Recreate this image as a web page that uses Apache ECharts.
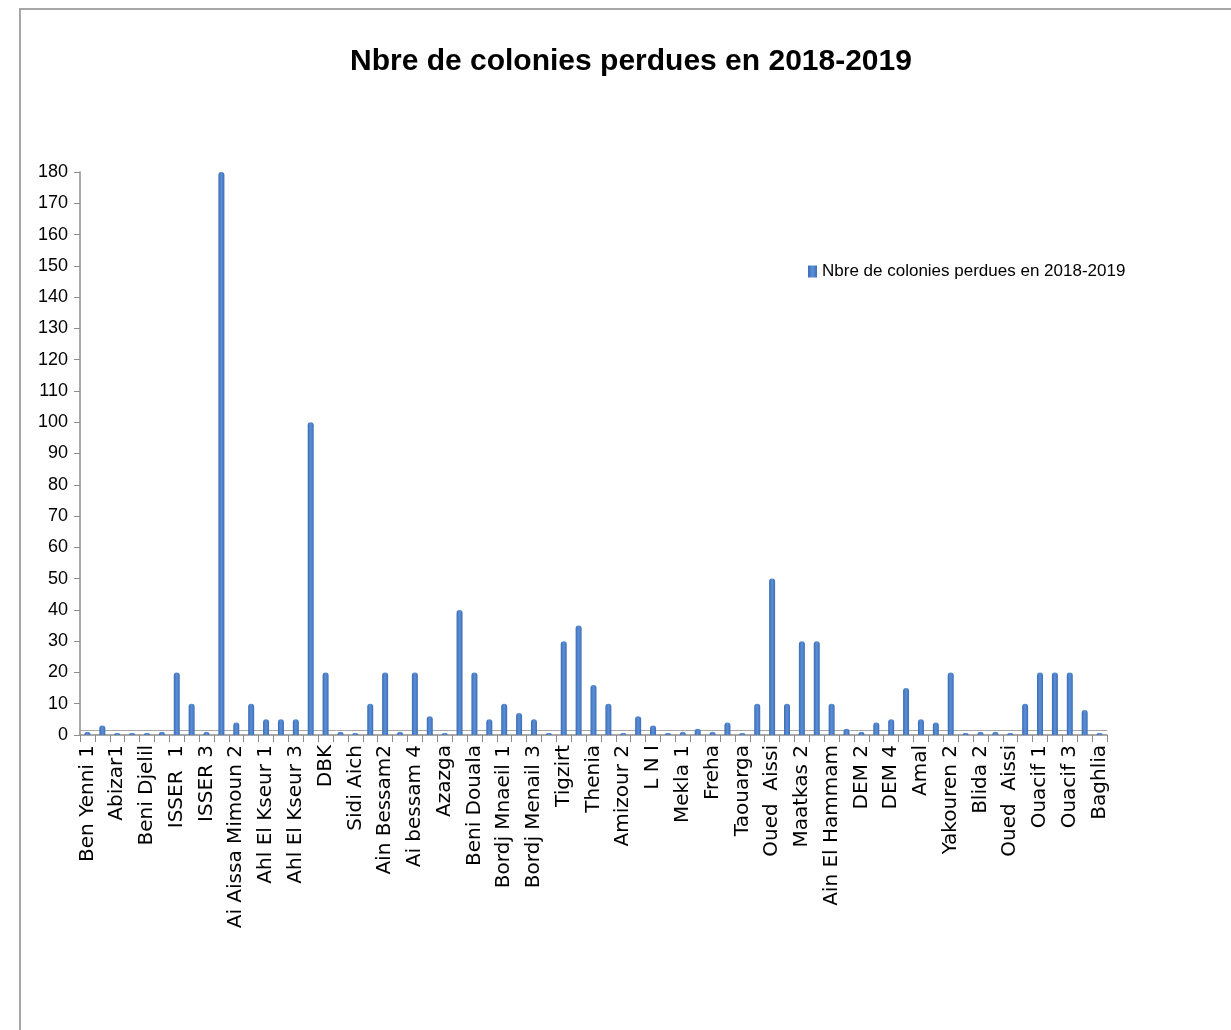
<!DOCTYPE html>
<html>
<head>
<meta charset="utf-8">
<script src="https://cdn.jsdelivr.net/npm/echarts@6/dist/echarts.min.js"></script>
<style>
  html, body { margin: 0; padding: 0; background: #ffffff; }
  #wrap { position: relative; width: 1231px; height: 1030px; overflow: hidden; }
  #chart { position: absolute; left: 0; top: 0; width: 1231px; height: 1030px; }
  #frame { position: absolute; left: 19px; top: 8px; width: 1240px; height: 1040px;
           border-left: 2px solid #a6a6a6; border-top: 2px solid #a6a6a6; pointer-events: none; }
</style>
</head>
<body>
<div id="wrap">
  <div id="chart"></div>
  <div id="frame"></div>
</div>
<script>
// Apiaries (ruchers) surveyed, in survey order
const ruchers = [
  'Ben Yenni 1', 'Ben Yenni 2', 'Abizar1', 'Abizar2', 'Beni Djelil', 'Beni Djelil 2',
  'ISSER  1', 'ISSER 2', 'ISSER 3', 'Ai Aissa Mimoun 1', 'Ai Aissa Mimoun 2', 'Ai Aissa Mimoun 3',
  'Ahl El Kseur 1', 'Ahl El Kseur 2', 'Ahl El Kseur 3', 'Ahl El Kseur 4', 'DBK', 'DBK 2',
  'Sidi Aich', 'Ain Bessam1', 'Ain Bessam2', 'Ai bessam 3', 'Ai bessam 4', 'Ai bessam 5',
  'Azazga', 'Azazga 2', 'Beni Douala', 'Beni Douala 2', 'Bordj Mnaeil 1', 'Bordj Mnaeil 2',
  'Bordj Menail 3', 'Bordj Menail 4', 'Tigzirt', 'Tigzirt 2', 'Thenia', 'Amizour 1',
  'Amizour 2', 'Amizour 3', 'L N I', 'L N I 2', 'Mekla 1', 'Mekla 2',
  'Freha', 'Freha 2', 'Taouarga', 'Taouarga 2', 'Oued  Aissi', 'Oued Aissi 2',
  'Maatkas 2', 'Maatkas 3', 'Ain El Hammam', 'DEM 1', 'DEM 2', 'DEM 3',
  'DEM 4', 'DEM 5', 'Amal', 'Yakouren 1', 'Yakouren 2', 'Blida 1',
  'Blida 2', 'Blida 3', 'Oued  Aissi', 'Oued Aissi 3', 'Ouacif 1', 'Ouacif 2',
  'Ouacif 3', 'Ouacif 4', 'Baghlia'
];

// Colonies lost per apiary, 2018-2019
const coloniesPerdues = [
  1, 3, 0, 0, 0, 1,
  20, 10, 1, 180, 4, 10,
  5, 5, 5, 100, 20, 1,
  0, 10, 20, 1, 20, 6,
  0, 40, 20, 5, 10, 7,
  5, 0, 30, 35, 16, 10,
  0, 6, 3, 0, 1, 2,
  1, 4, 0, 10, 50, 10,
  30, 30, 10, 2, 1, 4,
  5, 15, 5, 4, 20, 0,
  1, 1, 0, 10, 20, 20,
  20, 8, 0
];

const yMin = 0, yMax = 180, yStep = 10;
const serieNom = 'Nbre de colonies perdues en 2018-2019';

const chart = echarts.init(document.getElementById('chart'), null, { renderer: 'canvas' });

chart.setOption({
  backgroundColor: '#ffffff',
  animation: false,
  title: {
    text: 'Nbre de colonies perdues en 2018-2019',
    left: 345,
    top: 42,
    textStyle: {
      fontFamily: '"Liberation Sans", Arial, sans-serif',
      fontWeight: 'bold',
      fontSize: 30,
      color: '#000000'
    }
  },
  legend: {
    data: [serieNom],
    left: 803,
    top: 258,
    itemWidth: 9,
    itemHeight: 12,
    icon: 'rect',
    textStyle: {
      fontFamily: '"Liberation Sans", Arial, sans-serif',
      fontSize: 17,
      color: '#000000'
    }
  },
  grid: { left: 80, right: 124, top: 172, bottom: 295, containLabel: false },
  xAxis: [{
    type: 'category',
    data: ruchers,
    boundaryGap: true,
    axisLine: { show: true, lineStyle: { color: '#8c8c8c', width: 1.5 } },
    axisTick: { show: true, interval: 0, length: 7, lineStyle: { color: '#8c8c8c' } },
    axisLabel: {
      interval: 1,
      rotate: 90,
      margin: 10,
      fontFamily: '"DejaVu Sans", sans-serif',
      fontSize: 20,
      color: '#000000'
    },
    splitLine: { show: false }
  }, {
    type: 'category',
    data: ruchers,
    position: 'bottom',
    offset: -5,
    axisLine: { show: true, lineStyle: { color: '#a6a6a6', width: 1 } },
    axisTick: { show: false },
    axisLabel: { show: false },
    splitLine: { show: false }
  }],
  yAxis: {
    type: 'value',
    min: yMin,
    max: yMax,
    interval: yStep,
    axisLine: { show: true, lineStyle: { color: '#8c8c8c', width: 1.5 } },
    axisTick: { show: true, length: 6, lineStyle: { color: '#8c8c8c' } },
    axisLabel: {
      margin: 12,
      fontFamily: '"Liberation Sans", Arial, sans-serif',
      fontSize: 18,
      color: '#000000'
    },
    splitLine: { show: false }
  },
  series: [{
    name: serieNom,
    type: 'bar',
    xAxisIndex: 0,
    data: coloniesPerdues,
    barWidth: 6,
    barMinHeight: 2,
    itemStyle: {
      color: new echarts.graphic.LinearGradient(0, 0, 1, 0, [
        { offset: 0, color: '#3b6cb3' },
        { offset: 0.5, color: '#5a8fd8' },
        { offset: 1, color: '#3d6eb5' }
      ]),
      borderRadius: [3, 3, 0, 0]
    }
  }]
});
</script>
</body>
</html>
